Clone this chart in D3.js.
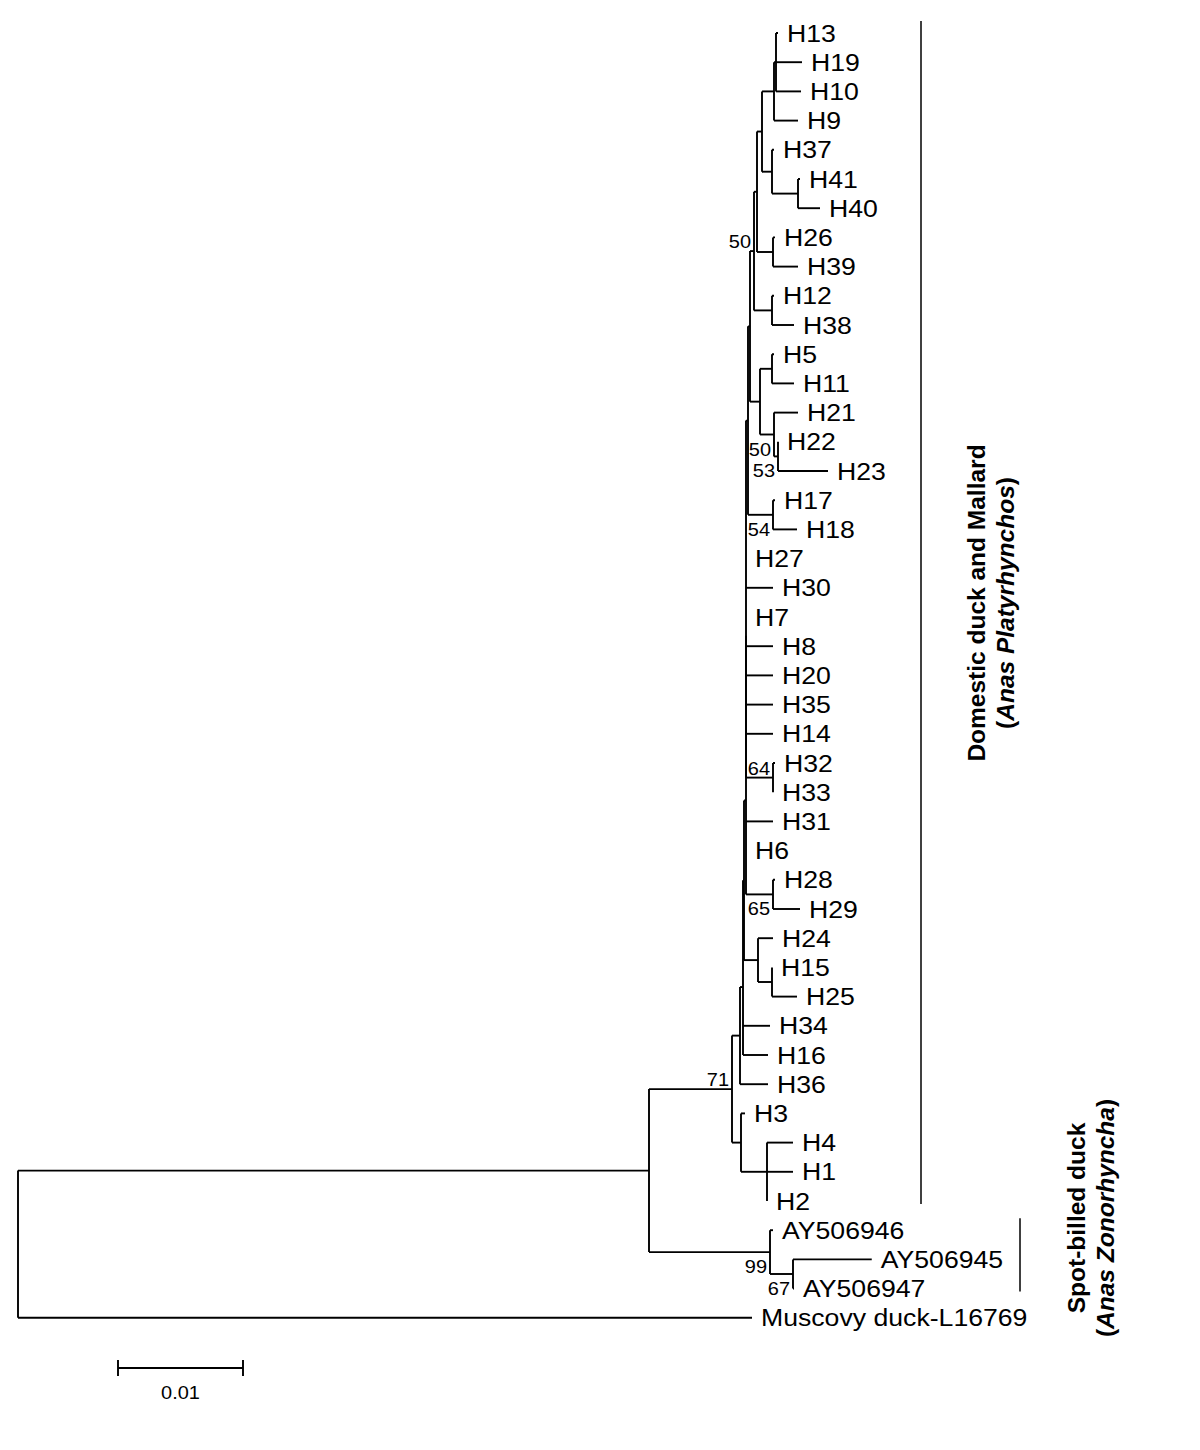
<!DOCTYPE html>
<html>
<head>
<meta charset="utf-8">
<title>Duck mtDNA haplotype tree</title>
<script src="https://d3js.org/d3.v7.min.js"></script>
<style>
  body { margin: 0; background: #fff; }
  svg { display: block; font-family: "Liberation Sans", Arial, sans-serif; }
  .branch { fill: none; stroke: #000; stroke-width: 1.9; }
  .leaf { font-size: 24px; }
  .support { font-size: 18px; }
  .clade-bar { stroke: #000; stroke-width: 1.5; }
  .clade-label { font-size: 24.5px; font-weight: bold; }
</style>
</head>
<body>
<div id="chart"></div>
<script>
// tree in newick form: branch lengths in substitutions/site, bootstrap values as internal labels
const treeNewick =
  "(((((((((((((((H13:0.00016,H19:0.00208,H10:0.002):0.00016,H9:0.00192):0.00096," +
  "(H37:0.00016,(H41:0.00016,H40:0.00176):0.00208):0.0008):0.0004," +
  "(H26:0.00016,H39:0.002):0.00128):0.00024," +
  "(H12:0.00016,H38:0.00176):0.00144)50:0.00032," +
  "((H5:0.00016,H11:0.00176):0.00096," +
  "(H21:0.00192,(H22:0,H23:0.004)53:0.00032)50:0.00112):0.0008):0.00016," +
  "(H17:0.00016,H18:0.00192)54:0.002):0.00016," +
  "H27:0,H30:0.00216,H7:0,H8:0.00216,H20:0.00216,H35:0.00216,H14:0.00216," +
  "(H32:0.00016,H33:0)64:0.00216):0," +
  "H31:0.00216,H6:0,(H28:0.00016,H29:0.00216)65:0.00216):0.00016," +
  "(H24:0.0012,(H15:0,H25:0.002):0.00112):0.00112):0.00008," +
  "H34:0.00216,H16:0.002):0.00024,H36:0.00224):0.00064," +
  "(H3:0.00032,(H4:0.00208,H1:0.00208,H2:0):0.00208):0.00072)71:0.00664," +
  "(AY506946:0.00024,(AY506945:0.0063,AY506947:0.00008)67:0.00184)99:0.00968):0.05048," +
  "Muscovy duck-L16769:0.05872);";

const scaleBarValue = 0.01;

const clades = [
  { first: "H13", last: "H2", lines: ["Domestic duck and Mallard", "Anas Platyrhynchos"] },
  { first: "AY506946", last: "AY506947", lines: ["Spot-billed duck", "Anas Zonorhyncha"] }
];

// support labels drawn above the node (the rest go under it)
const supportAbove = new Set(["50/H13", "71/H13", "64/H32"]);

function parseNewick(s) {
  let i = 0;
  function node() {
    const n = {};
    if (s[i] === "(") {
      n.children = [];
      i++;
      do { n.children.push(node()); } while (s[i++] === ",");
    }
    let lab = "";
    while (i < s.length && !",():;".includes(s[i])) lab += s[i++];
    n.name = lab.trim();
    n.length = 0;
    if (s[i] === ":") {
      i++;
      let len = "";
      while (i < s.length && !",();".includes(s[i])) len += s[i++];
      n.length = +len;
    }
    return n;
  }
  return node();
}

const width = 1200, height = 1450;
const svg = d3.select("#chart").append("svg")
  .attr("width", width)
  .attr("height", height);

const root = d3.hierarchy(parseNewick(treeNewick), d => d.children);
root.eachBefore(n => { n.dist = n.parent ? n.parent.dist + n.data.length : 0; });

const leaves = root.leaves();
const x = d3.scaleLinear().domain([0, 0.01]).range([18, 143]);
const y = d3.scaleLinear().domain([0, leaves.length - 1]).range([33, 33 + 29.2 * (leaves.length - 1)]);

leaves.forEach((l, i) => { l.py = y(i); });
root.eachAfter(n => {
  if (n.children) n.py = d3.mean(n.children, c => c.py);
  n.px = x(n.dist);
});

// the figure's lettering is a little wider than plain Arial
const textStretch = 1.11;

const g = svg.append("g");

// horizontal branches
g.selectAll("path.h")
  .data(root.descendants().filter(n => n.parent))
  .join("path")
  .attr("class", "branch h")
  .attr("d", n => `M${n.parent.px},${n.py}H${n.px}`);

// vertical connectors
g.selectAll("path.v")
  .data(root.descendants().filter(n => n.children))
  .join("path")
  .attr("class", "branch v")
  .attr("d", n => `M${n.px},${n.children[0].py}V${n.children[n.children.length - 1].py}`);

// leaf names
g.selectAll("text.leaf")
  .data(leaves)
  .join("text")
  .attr("class", "leaf")
  .attr("transform", n => `translate(${n.px + 9},${n.py}) scale(${textStretch},1)`)
  .attr("dy", "0.36em")
  .text(n => n.data.name);

// bootstrap values
g.selectAll("text.support")
  .data(root.descendants().filter(n => n.children && n.data.name))
  .join("text")
  .attr("class", "support")
  .attr("text-anchor", "end")
  .attr("transform", n => {
    const above = supportAbove.has(n.data.name + "/" + n.leaves()[0].data.name);
    return `translate(${n.px - 3},${above ? n.py - 3 : n.py + 21}) scale(${textStretch},1)`;
  })
  .text(n => n.data.name);

// scale bar
const sbX = 118, sbY = 1368, sbLen = x(scaleBarValue) - x(0);
svg.append("path").attr("class", "branch")
  .attr("d", `M${sbX},${sbY}H${sbX + sbLen}M${sbX},${sbY - 8}V${sbY + 8}M${sbX + sbLen},${sbY - 8}V${sbY + 8}`);
svg.append("text")
  .attr("class", "support")
  .attr("text-anchor", "middle")
  .attr("transform", `translate(${sbX + sbLen / 2},${sbY + 31}) scale(${textStretch},1)`)
  .text(scaleBarValue);

// clade bars and labels
const byName = new Map(leaves.map(l => [l.data.name, l]));
const cladePos = [
  { barX: 921, textX: 985, textY: 603 },
  { barX: 1020, textX: 1085, textY: 1218 }
];
clades.forEach((c, k) => {
  const top = byName.get(c.first).py - 12, bot = byName.get(c.last).py + 3;
  const p = cladePos[k];
  svg.append("line").attr("class", "clade-bar")
    .attr("x1", p.barX).attr("x2", p.barX)
    .attr("y1", top).attr("y2", bot);
  const t = svg.append("text")
    .attr("class", "clade-label")
    .attr("text-anchor", "middle")
    .attr("transform", `translate(${p.textX},${p.textY}) rotate(-90)`);
  t.append("tspan").attr("x", 0).attr("y", 0).text(c.lines[0]);
  const t2 = t.append("tspan").attr("x", 0).attr("y", 29);
  t2.append("tspan").text("(");
  t2.append("tspan").attr("font-style", "italic").text(c.lines[1]);
  t2.append("tspan").text(")");
});
</script>
</body>
</html>
